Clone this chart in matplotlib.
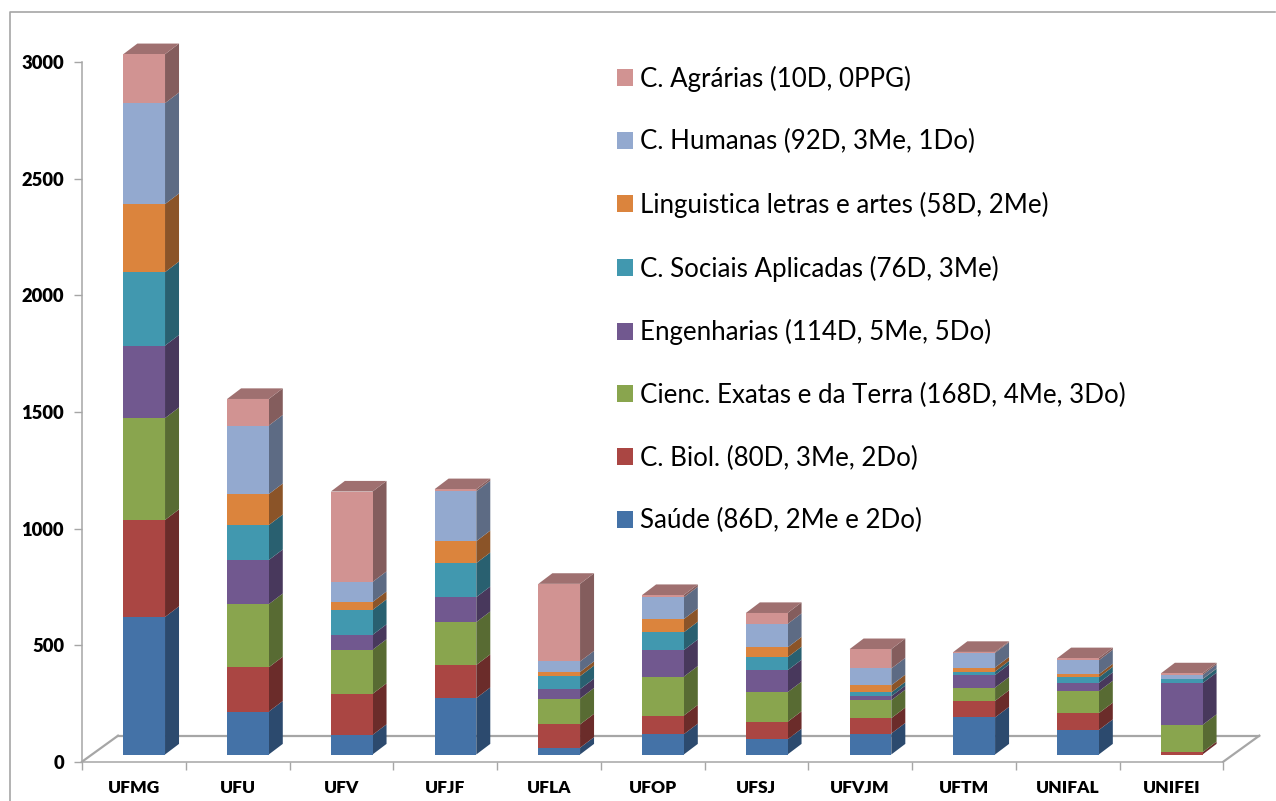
import matplotlib
matplotlib.use("Agg")
import matplotlib.pyplot as plt
from matplotlib.lines import Line2D
from matplotlib.patches import Polygon, Rectangle
from matplotlib.transforms import Affine2D, IdentityTransform

universities = ["UFMG", "UFU", "UFV", "UFJF", "UFLA", "UFOP", "UFSJ", "UFVJM", "UFTM", "UNIFAL", "UNIFEI"]
y_ticks = [0, 500, 1000, 1500, 2000, 2500, 3000]

saude    = [590, 184,  84, 242,  29,  87,  65,  90, 159, 105,   0]
biol     = [416, 190, 176, 142, 100,  80,  75,  66,  71,  72,  10]
exatas   = [437, 271, 189, 184, 111, 167, 127,  77,  57,  94, 117]
engenh   = [311, 189,  64, 107,  40, 114,  94,  17,  54,  36, 179]
sociais  = [315, 150, 107, 146,  56,  76,  56,  16,  15,  24,  17]
letras   = [292, 133,  34,  94,  18,  57,  42,  31,  17,  13,   1]
humanas  = [433, 294,  86, 214,  45,  93, 101,  72,  63,  60,  17]
agrarias = [210, 114, 388,   9, 333,  10,  47,  83,   4,   9,   7]

series = [saude, biol, exatas, engenh, sociais, letras, humanas, agrarias]
labels = ["Saúde (86D, 2Me e 2Do)", "C. Biol. (80D, 3Me, 2Do)",
          "Cienc. Exatas e da Terra (168D, 4Me, 3Do)", "Engenharias (114D, 5Me, 5Do)",
          "C. Sociais Aplicadas (76D, 3Me)", "Linguistica letras e artes (58D, 2Me)",
          "C. Humanas (92D, 3Me, 1Do)", "C. Agrárias (10D, 0PPG)"]
front = ["#4472A7", "#AA4643", "#89A54E", "#71588F", "#4198AF", "#DB843D", "#93A9CF", "#D19392"]
side  = ["#2C4A6E", "#6B2C2A", "#586B33", "#48385C", "#296070", "#8B5428", "#5D6B84", "#845D5D"]
top_face = "#9F7070"
grey = "#A6A6A6"

W, H = 1276, 801
plt.rcParams["font.family"] = ["Lato", "DejaVu Sans"]
fig = plt.figure(figsize=(W / 100, H / 100), dpi=100)

# Plot box, in reference pixels
L, R, T, B = 82, 1223.3, 62.3, 761.7
ax = fig.add_axes([L / W, 1 - B / H, (R - L) / W, (B - T) / H])
ax.set_xlim(-0.5, 10.5)
ax.set_ylim(0, 3000)
ax.patch.set_alpha(0)

for s in ["top", "right"]:
    ax.spines[s].set_visible(False)
for s in ["left", "bottom"]:
    ax.spines[s].set_color(grey)
    ax.spines[s].set_linewidth(1.1)

ax.set_yticks(y_ticks)
ax.set_yticklabels([str(v) for v in y_ticks], fontweight="heavy", fontsize=13.2, color="black")
ax.tick_params(axis="y", length=6, width=1.0, color=grey, pad=7)
ax.set_xticks(range(11))
ax.set_xticklabels(universities, fontweight="heavy", fontsize=12.5, color="black")
ax.tick_params(axis="x", length=0, pad=13.5)
ax.set_xticks([i - 0.5 for i in range(12)], minor=True)
ax.tick_params(axis="x", which="minor", length=6, width=1.0, color=grey)

# Floor of the 3D box
DX, DY = 36, 26
ident = IdentityTransform()
floor_y = H - B
for xs, ys in [((L, L + DX), (floor_y, floor_y + DY)),
               ((L + DX, R + DX), (floor_y + DY, floor_y + DY)),
               ((R, R + DX), (floor_y, floor_y + DY))]:
    ax.plot(xs, ys, color=grey, lw=1.6, transform=ident, clip_on=False, zorder=1)

# Bars: in the middle of the box depth
shift_x, shift_y = 10.3, 7.2
depth_x, depth_y = 14, 10.6
bar_w = 41.7 / ((R - L) / 11)
bar_tf = ax.transData + Affine2D().translate(shift_x, shift_y)


def px(x, y):
    return bar_tf.transform((x, y))


bottoms = [0] * 11
handles = []
for vals, fc, sc, lab in zip(series, front, side, labels):
    bars = ax.bar(range(11), vals, bottom=bottoms, width=bar_w, color=fc,
                  transform=bar_tf, clip_on=False, zorder=3, label=lab)
    handles.append(Rectangle((0, 0), 1, 1, color=fc))
    for i, (v, b) in enumerate(zip(vals, bottoms)):
        x1, y0 = px(i + bar_w / 2, b)
        _, y1 = px(i, b + v)
        ax.add_patch(Polygon([(x1, y0), (x1 + depth_x, y0 + depth_y),
                              (x1 + depth_x, y1 + depth_y), (x1, y1)],
                             closed=True, facecolor=sc, edgecolor="none",
                             transform=ident, clip_on=False, zorder=2))
    bottoms = [b + v for b, v in zip(bottoms, vals)]

# Top faces
for i, tot in enumerate(bottoms):
    x0, y = px(i - bar_w / 2, tot)
    x1, _ = px(i + bar_w / 2, tot)
    ax.add_patch(Polygon([(x0, y), (x1, y), (x1 + depth_x, y + depth_y),
                          (x0 + depth_x, y + depth_y)],
                         closed=True, facecolor=top_face, edgecolor="none",
                         transform=ident, clip_on=False, zorder=2))

# Legend, last series first
leg = fig.legend(handles[::-1], labels[::-1], loc="upper left",
                 bbox_to_anchor=(617 / W, 1 - 65.5 / H), frameon=False, fontsize=18.65,
                 handlelength=0.62, handleheight=0.62, handletextpad=0.28,
                 labelspacing=1.45, borderpad=0, borderaxespad=0, labelcolor="black")
for h in leg.legend_handles:
    h.set_linewidth(0)

# Outer chart frame: top and left edges only
fig.add_artist(Line2D([10 / W, 10 / W, 1275 / W], [0, 1 - 12 / H, 1 - 12 / H],
                      transform=fig.transFigure, color=grey, lw=1.2))

fig.savefig("out.png", dpi=100)
